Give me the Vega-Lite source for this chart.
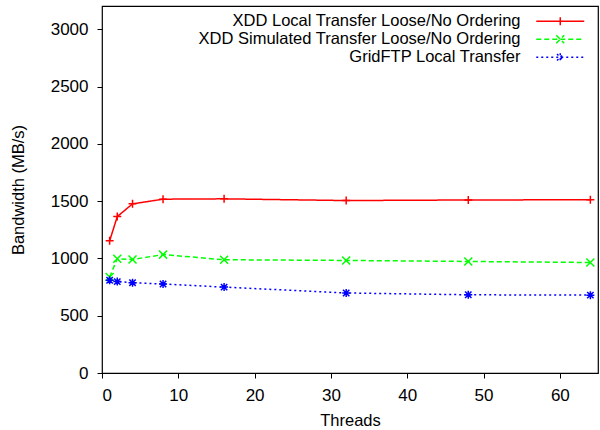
{
  "$schema": "https://vega.github.io/schema/vega-lite/v6.json",
  "autosize": "none",
  "width": 496,
  "height": 367,
  "padding": {"left": 102, "top": 6, "right": 2, "bottom": 57},
  "background": "white",
  "config": {
    "font": "Liberation Sans",
    "view": {"stroke": "#000", "strokeWidth": 1.2},
    "axis": {
      "domain": false,
      "grid": false,
      "ticks": true,
      "zindex": 1,
      "tickColor": "#000",
      "tickWidth": 1,
      "tickSize": 5,
      "labelColor": "#000",
      "labelFontSize": 17,
      "labelFont": "Liberation Sans",
      "titleFont": "Liberation Sans",
      "titleFontSize": 16.5,
      "titleFontWeight": "normal",
      "titleColor": "#000"
    }
  },
  "data": {
    "values": [
      {"threads": 1, "bw": 1154, "series": "XDD Local Transfer Loose/No Ordering"},
      {"threads": 2, "bw": 1366, "series": "XDD Local Transfer Loose/No Ordering"},
      {"threads": 4, "bw": 1477, "series": "XDD Local Transfer Loose/No Ordering"},
      {"threads": 8, "bw": 1518, "series": "XDD Local Transfer Loose/No Ordering"},
      {"threads": 16, "bw": 1521, "series": "XDD Local Transfer Loose/No Ordering"},
      {"threads": 32, "bw": 1506, "series": "XDD Local Transfer Loose/No Ordering"},
      {"threads": 48, "bw": 1511, "series": "XDD Local Transfer Loose/No Ordering"},
      {"threads": 64, "bw": 1513, "series": "XDD Local Transfer Loose/No Ordering"},
      {"threads": 1, "bw": 838, "series": "XDD Simulated Transfer Loose/No Ordering"},
      {"threads": 2, "bw": 998, "series": "XDD Simulated Transfer Loose/No Ordering"},
      {"threads": 4, "bw": 992, "series": "XDD Simulated Transfer Loose/No Ordering"},
      {"threads": 8, "bw": 1034, "series": "XDD Simulated Transfer Loose/No Ordering"},
      {"threads": 16, "bw": 989, "series": "XDD Simulated Transfer Loose/No Ordering"},
      {"threads": 32, "bw": 983, "series": "XDD Simulated Transfer Loose/No Ordering"},
      {"threads": 48, "bw": 974, "series": "XDD Simulated Transfer Loose/No Ordering"},
      {"threads": 64, "bw": 965, "series": "XDD Simulated Transfer Loose/No Ordering"},
      {"threads": 1, "bw": 810, "series": "GridFTP Local Transfer"},
      {"threads": 2, "bw": 798, "series": "GridFTP Local Transfer"},
      {"threads": 4, "bw": 789, "series": "GridFTP Local Transfer"},
      {"threads": 8, "bw": 777, "series": "GridFTP Local Transfer"},
      {"threads": 16, "bw": 750, "series": "GridFTP Local Transfer"},
      {"threads": 32, "bw": 699, "series": "GridFTP Local Transfer"},
      {"threads": 48, "bw": 683, "series": "GridFTP Local Transfer"},
      {"threads": 64, "bw": 680, "series": "GridFTP Local Transfer"}
    ]
  },
  "layer": [
    {
      "mark": {"type": "line", "strokeWidth": 1.5},
      "encoding": {
        "x": {
          "field": "threads", "type": "quantitative",
          "scale": {"domain": [0, 65], "nice": false, "zero": false},
          "axis": {"title": "Threads", "values": [0, 10, 20, 30, 40, 50, 60], "labelPadding": 9, "titlePadding": 9}
        },
        "y": {
          "field": "bw", "type": "quantitative",
          "scale": {"domain": [0, 3205], "nice": false},
          "axis": {"title": "Bandwidth (MB/s)", "values": [0, 500, 1000, 1500, 2000, 2500, 3000], "format": "d", "labelPadding": 9, "titlePadding": 24}
        },
        "color": {
          "field": "series", "type": "nominal",
          "scale": {
            "domain": ["XDD Local Transfer Loose/No Ordering", "XDD Simulated Transfer Loose/No Ordering", "GridFTP Local Transfer"],
            "range": ["#ff0000", "#00ff00", "#0000ff"]
          },
          "legend": {
            "title": null,
            "orient": "none",
            "legendX": 450,
            "legendY": 7,
            "padding": 0,
            "labelAlign": "right",
            "labelOffset": -48,
            "labelFontSize": 16.5,
            "labelFont": "Liberation Sans",
            "labelColor": "#000",
            "labelLimit": 500,
            "rowPadding": 1,
            "symbolSize": 64,
            "symbolStrokeWidth": 1.5,
            "encode": {
              "symbols": {
                "update": {
                  "shape": {"signal": "datum.value === 'XDD Local Transfer Loose/No Ordering' ? 'M-6,0L6,0M0,-1L0,1' : datum.value === 'GridFTP Local Transfer' ? 'M-6,0L6,0M-1,0L1,0M0,-1L0,1M-0.8,-0.8L0.8,0.8M-0.8,0.8L0.8,-0.8' : 'M-6,0L6,0M-1,-1L1,1M-1,1L1,-1'"},
                  "fill": {"value": "transparent"}
                }
              }
            }
          }
        },
        "strokeDash": {
          "field": "series", "type": "nominal",
          "scale": {
            "domain": ["XDD Local Transfer Loose/No Ordering", "XDD Simulated Transfer Loose/No Ordering", "GridFTP Local Transfer"],
            "range": [[1, 0], [5, 3], [2, 3]]
          }
        }
      }
    },
    {
      "transform": [{"filter": "datum.series === 'XDD Local Transfer Loose/No Ordering'"}],
      "mark": {"type": "point", "filled": false, "strokeWidth": 1.5, "size": 64, "opacity": 1, "color": "#ff0000", "shape": "M-1,0L1,0M0,-1L0,1"},
      "encoding": {
        "x": {"field": "threads", "type": "quantitative"},
        "y": {"field": "bw", "type": "quantitative"}
      }
    },
    {
      "transform": [{"filter": "datum.series === 'XDD Simulated Transfer Loose/No Ordering'"}],
      "mark": {"type": "point", "filled": false, "strokeWidth": 1.5, "size": 64, "opacity": 1, "color": "#00ff00", "shape": "M-1,-1L1,1M-1,1L1,-1"},
      "encoding": {
        "x": {"field": "threads", "type": "quantitative"},
        "y": {"field": "bw", "type": "quantitative"}
      }
    },
    {
      "transform": [{"filter": "datum.series === 'GridFTP Local Transfer'"}],
      "mark": {"type": "point", "filled": false, "strokeWidth": 1.5, "size": 64, "opacity": 1, "color": "#0000ff", "shape": "M-1,0L1,0M0,-1L0,1M-0.8,-0.8L0.8,0.8M-0.8,0.8L0.8,-0.8"},
      "encoding": {
        "x": {"field": "threads", "type": "quantitative"},
        "y": {"field": "bw", "type": "quantitative"}
      }
    }
  ]
}
